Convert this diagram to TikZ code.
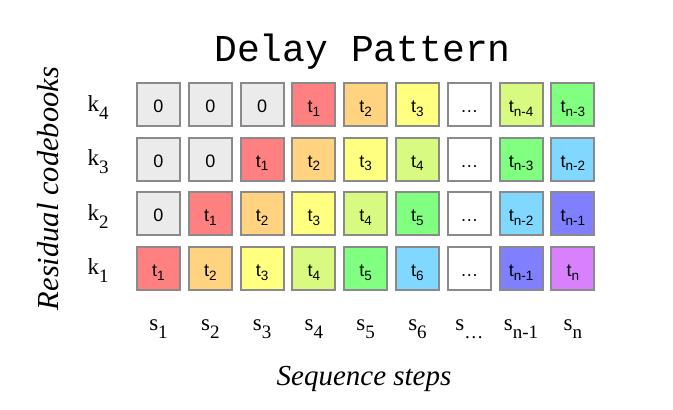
\documentclass[tikz,border=0pt]{standalone}
\usepackage{fontspec}
\setmainfont{Liberation Serif}
\setsansfont{Liberation Sans}
\setmonofont{Liberation Mono}
\definecolor{bordc}{RGB}{138,138,138}
\definecolor{gr}{RGB}{235,235,235}
\definecolor{cr}{RGB}{255,128,128}
\definecolor{co}{RGB}{255,211,128}
\definecolor{cy}{RGB}{255,255,128}
\definecolor{cl}{RGB}{217,250,128}
\definecolor{cg}{RGB}{128,255,128}
\definecolor{cc}{RGB}{128,215,255}
\definecolor{cb}{RGB}{128,128,255}
\definecolor{cp}{RGB}{217,128,255}
\definecolor{cw}{RGB}{255,255,255}
\newcommand\cT[1]{t\raisebox{-3.5pt}{\fontsize{13.5}{13.5}\selectfont #1}}
\newcommand\lbl[2]{#1\raisebox{-8pt}{\fontsize{19}{19}\selectfont #2}}
\tikzset{
  cellbox/.style={draw=bordc, line width=2pt, minimum size=43pt, inner sep=0pt,
    text height=20pt, text depth=4pt, font=\sffamily\fontsize{18}{18}\selectfont},
  axlbl/.style={anchor=base, inner sep=0pt, font=\rmfamily\fontsize{23}{23}\selectfont},
  axtitle/.style={anchor=base, inner sep=0pt, font=\rmfamily\itshape\fontsize{29}{29}\selectfont},
}
\begin{document}
\begin{tikzpicture}[x=1pt,y=-1pt]
\useasboundingbox[fill=white] (0,0) rectangle (673,410);
\node[anchor=base, inner sep=0pt, font=\ttfamily\fontsize{38}{38}\selectfont] (title) at (362.5,61) {Delay Pattern};
% rows
\foreach \j/\c/\t in {1/gr/0,2/gr/0,3/gr/0,4/cr/\cT{1},5/co/\cT{2},6/cy/\cT{3},7/cw/\ldots,8/cl/\cT{n-4},9/cg/\cT{n-3}}
  \node[cellbox, fill=\c] (c4-\j) at ({158.5+51.8*(\j-1)},104.8) {\t};
\foreach \j/\c/\t in {1/gr/0,2/gr/0,3/cr/\cT{1},4/co/\cT{2},5/cy/\cT{3},6/cl/\cT{4},7/cw/\ldots,8/cg/\cT{n-3},9/cc/\cT{n-2}}
  \node[cellbox, fill=\c] (c3-\j) at ({158.5+51.8*(\j-1)},159.3) {\t};
\foreach \j/\c/\t in {1/gr/0,2/cr/\cT{1},3/co/\cT{2},4/cy/\cT{3},5/cl/\cT{4},6/cg/\cT{5},7/cw/\ldots,8/cc/\cT{n-2},9/cb/\cT{n-1}}
  \node[cellbox, fill=\c] (c2-\j) at ({158.5+51.8*(\j-1)},213.9) {\t};
\foreach \j/\c/\t in {1/cr/\cT{1},2/co/\cT{2},3/cy/\cT{3},4/cl/\cT{4},5/cg/\cT{5},6/cc/\cT{6},7/cw/\ldots,8/cb/\cT{n-1},9/cp/\cT{n}}
  \node[cellbox, fill=\c] (c1-\j) at ({158.5+51.8*(\j-1)},268.5) {\t};
% k labels
\node[axlbl] (k4) at (98,111) {\lbl{k}{4}};
\node[axlbl] (k3) at (98,165.5) {\lbl{k}{3}};
\node[axlbl] (k2) at (98,220.1) {\lbl{k}{2}};
\node[axlbl] (k1) at (98,274.7) {\lbl{k}{1}};
% s labels
\foreach \j/\t in {1/1,2/2,3/3,4/4,5/5,6/6,7/\ldots,8/n-1,9/n}
  \node[axlbl] (s\j) at ({158.5+51.8*(\j-1)},330.5) {\lbl{s}{\t}};
\node[axtitle] (xt) at (364,385) {Sequence steps};
\node[axtitle, rotate=90, font=\rmfamily\itshape\fontsize{30.5}{30.5}\selectfont] (yt) at (58,188.5) {Residual codebooks};
\end{tikzpicture}
\end{document}
